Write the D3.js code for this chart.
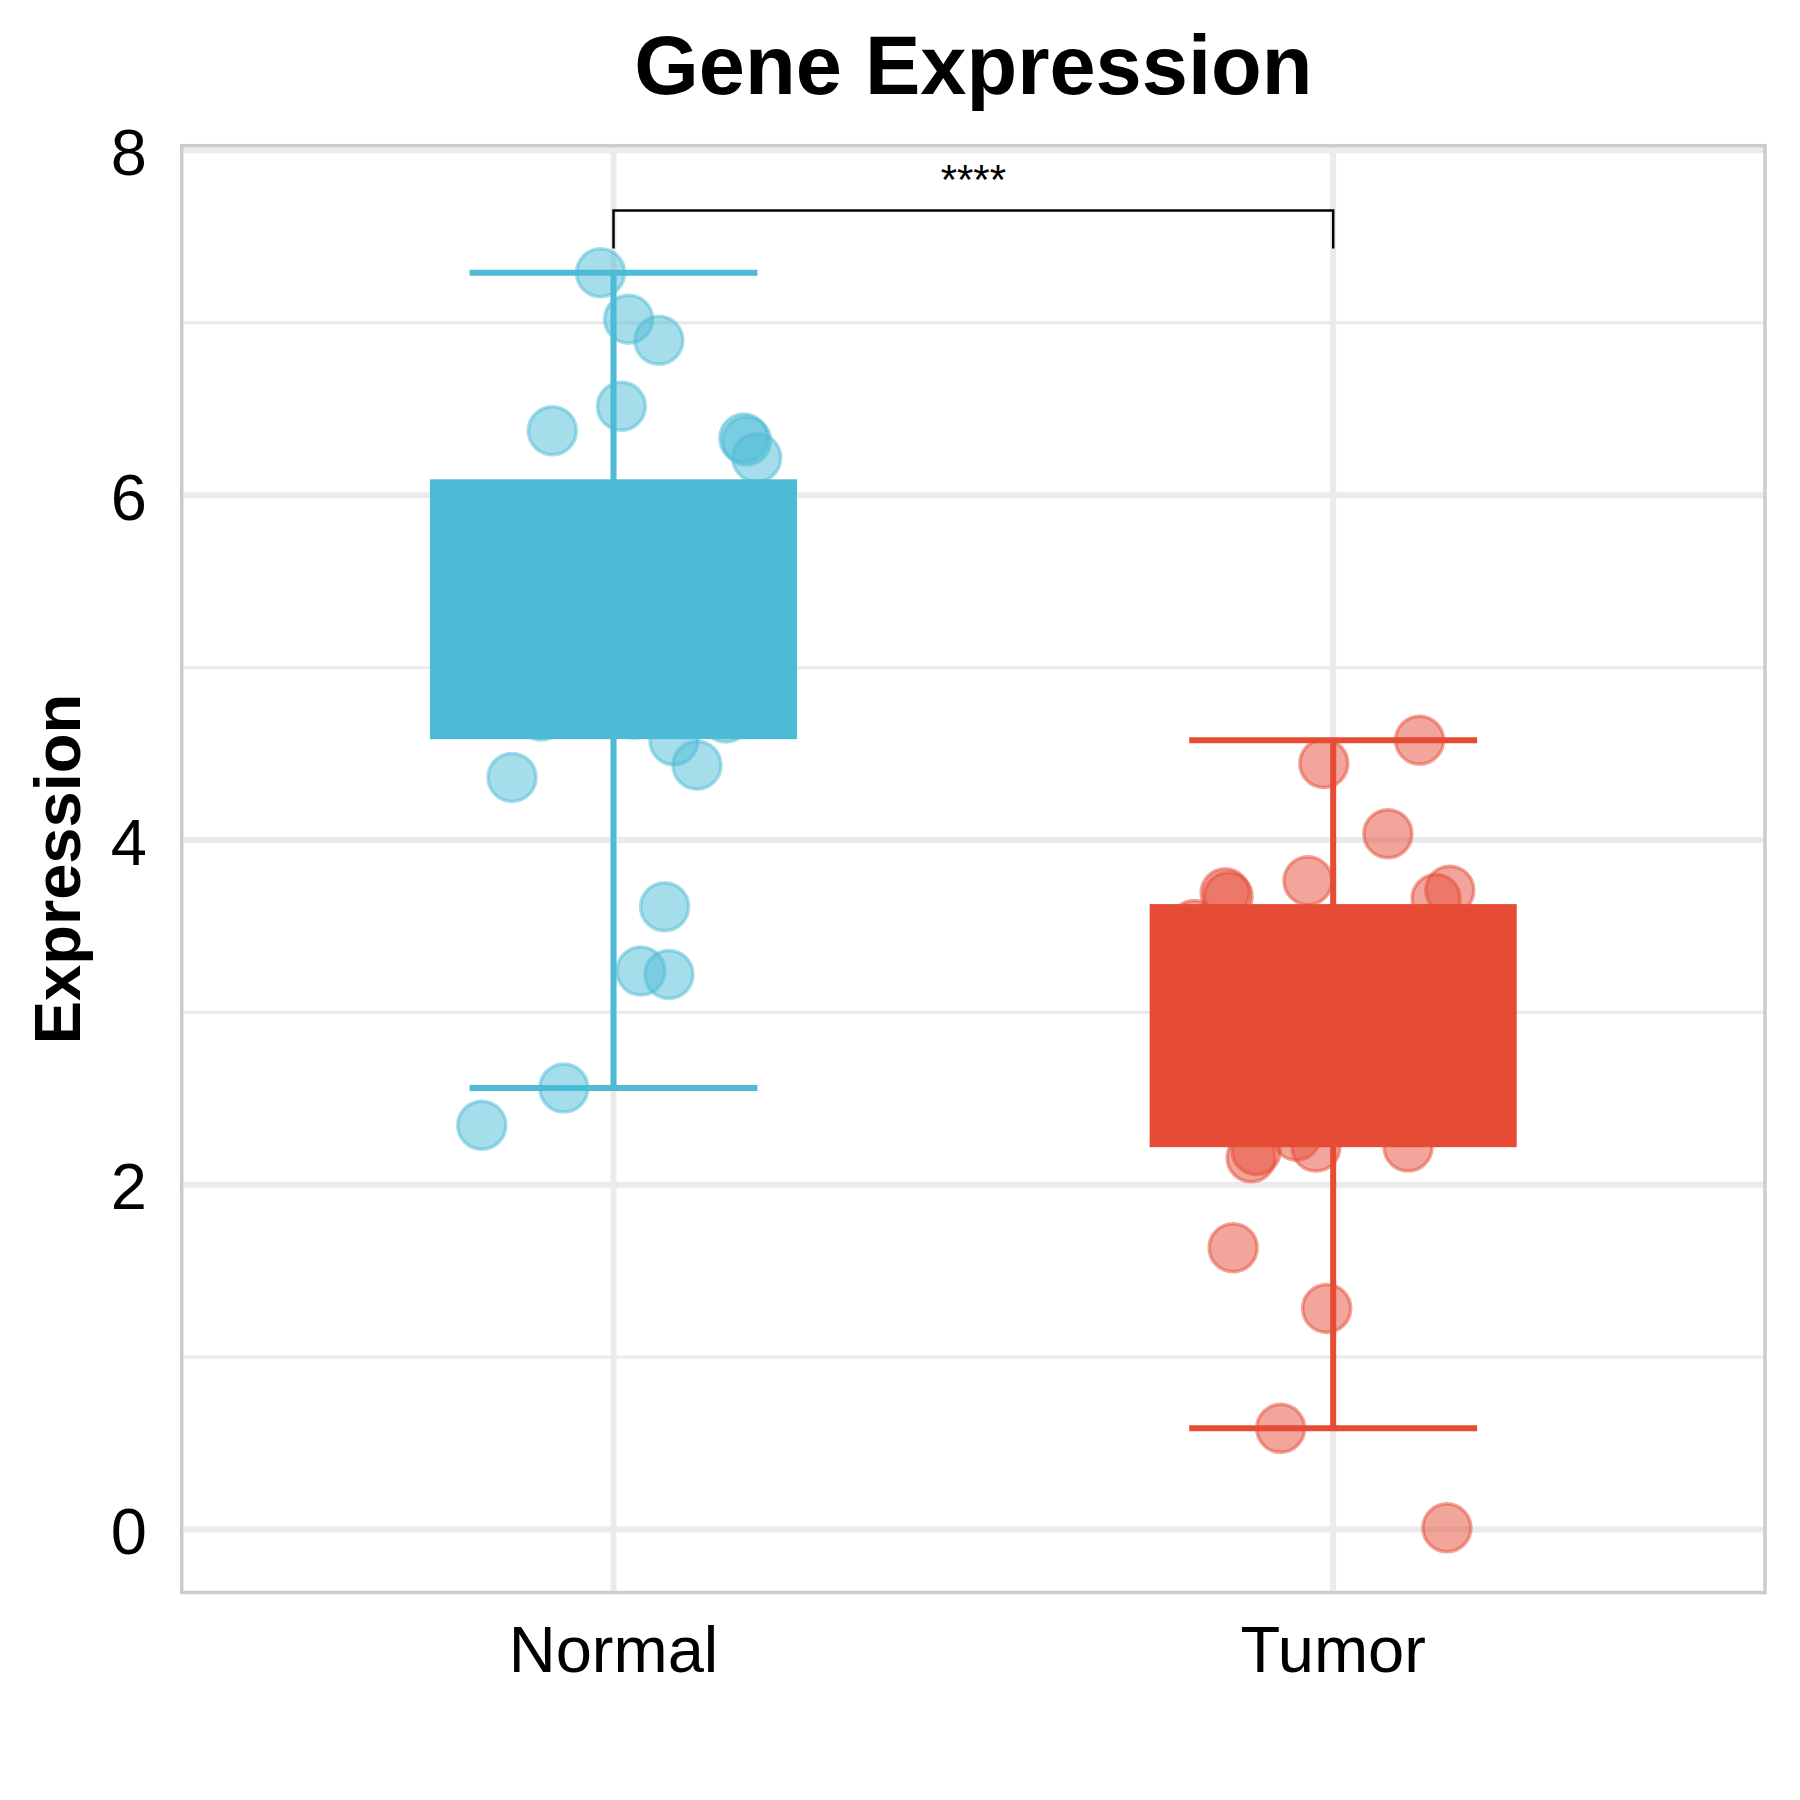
<!DOCTYPE html>
<html>
<head>
<meta charset="utf-8">
<script src="https://cdn.jsdelivr.net/npm/d3@7"></script>
<style>
  html, body { margin: 0; padding: 0; background: #ffffff; }
  svg { display: block; }
</style>
</head>
<body>
<svg id="chart" width="1800" height="1800"></svg>
<script>
// ---------------- data ----------------
const categories = ["Normal", "Tumor"];
const groupColors = ["#4DBBD5", "#E64B35"];

// box statistics (lower hinge, upper hinge, whisker ends)
const boxQ1 = [4.585, 2.218];
const boxQ3 = [6.092, 3.628];
const whiskerLow = [2.561, 0.587];
const whiskerHigh = [7.290, 4.578];

// individual observations (value) and horizontal jitter (fraction of category step)
const normalValues = [7.290, 7.021, 6.899, 6.515, 6.374, 6.331, 6.314, 6.217,
  5.92, 5.84, 5.71, 5.55, 5.43, 5.30, 5.18, 5.05, 4.93, 4.86, 4.80,
  4.719, 4.730, 4.707,
  4.575, 4.434, 4.363, 3.613, 3.240, 3.220, 2.561, 2.345];
const normalJitter = [-0.018, 0.021, 0.063, 0.011, -0.085, 0.181, 0.185, 0.199,
  -0.12, 0.07, -0.04, 0.15, -0.17, 0.02, 0.11, -0.09, 0.05, -0.15, 0.13,
  -0.101, 0.029, 0.156,
  0.084, 0.116, -0.141, 0.071, 0.038, 0.077, -0.069, -0.183];

const tumorValues = [4.579, 4.444, 4.036, 3.763, 3.694, 3.672, 3.709, 3.661, 3.51,
  3.45, 3.38, 3.29, 3.18, 3.07, 2.96, 2.88, 2.77, 2.66, 2.55, 2.47, 2.40,
  2.156, 2.198, 2.282, 2.219, 2.219,
  1.635, 1.283, 0.587, 0.010];
const tumorJitter = [0.120, -0.013, 0.076, -0.035, -0.150, -0.146, 0.162, 0.143, -0.193,
  0.05, -0.12, 0.16, -0.03, 0.09, -0.18, 0.12, -0.07, 0.02, 0.19, -0.14, 0.08,
  -0.114, -0.107, -0.051, -0.024, 0.104,
  -0.139, -0.009, -0.073, 0.158];

const yDomain = [-0.365, 8.027];
const yMajorTicks = [0, 2, 4, 6, 8];
const yMinorTicks = [1, 3, 5, 7];
const yTickLabels = ["0", "2", "4", "6", "8"];

const bracketLevel = 7.651;
const bracketTip = 7.431;
const signifLabel = "****";
const titleText = "Gene Expression";
const yTitleText = "Expression";

// ---------------- layout ----------------
const panel = { left: 181.7, right: 1765, top: 145.7, bottom: 1592.5 };
const FONT = "'Liberation Sans', Arial, Helvetica, sans-serif";

const svg = d3.select("#chart");
svg.append("rect").attr("width", 1800).attr("height", 1800).attr("fill", "#ffffff");

const x = d3.scalePoint().domain(categories).range([panel.left, panel.right]).padding(0.6);
const y = d3.scaleLinear().domain(yDomain).range([panel.bottom, panel.top]);
const step = x.step();

const groups = [
  { name: categories[0], color: groupColors[0], values: normalValues, jitter: normalJitter, q1: boxQ1[0], q3: boxQ3[0], lo: whiskerLow[0], hi: whiskerHigh[0] },
  { name: categories[1], color: groupColors[1], values: tumorValues, jitter: tumorJitter, q1: boxQ1[1], q3: boxQ3[1], lo: whiskerLow[1], hi: whiskerHigh[1] }
];

// clip for panel
svg.append("defs").append("clipPath").attr("id", "panelClip")
  .append("rect")
  .attr("x", panel.left).attr("y", panel.top)
  .attr("width", panel.right - panel.left).attr("height", panel.bottom - panel.top);

const plot = svg.append("g").attr("clip-path", "url(#panelClip)");

// grid
plot.selectAll("line.minor").data(yMinorTicks).join("line")
  .attr("x1", panel.left).attr("x2", panel.right)
  .attr("y1", d => y(d)).attr("y2", d => y(d))
  .attr("stroke", "#EBEBEB").attr("stroke-width", 3.3);
plot.selectAll("line.major").data(yMajorTicks).join("line")
  .attr("x1", panel.left).attr("x2", panel.right)
  .attr("y1", d => y(d)).attr("y2", d => y(d))
  .attr("stroke", "#EBEBEB").attr("stroke-width", 6);
plot.selectAll("line.vgrid").data(categories).join("line")
  .attr("x1", d => x(d)).attr("x2", d => x(d))
  .attr("y1", panel.top).attr("y2", panel.bottom)
  .attr("stroke", "#EBEBEB").attr("stroke-width", 6);

// points
groups.forEach(g => {
  plot.append("g").selectAll("circle").data(g.values).join("circle")
    .attr("cx", (d, i) => x(g.name) + g.jitter[i] * step)
    .attr("cy", d => y(d))
    .attr("r", 24)
    .attr("fill", g.color).attr("fill-opacity", 0.5)
    .attr("stroke", g.color).attr("stroke-opacity", 0.5).attr("stroke-width", 3.5);
});

// boxes & whiskers
const boxHalf = 0.255 * step;
const capHalf = 0.2 * step;
groups.forEach(g => {
  const cx = x(g.name);
  const gg = plot.append("g");
  gg.append("line")
    .attr("x1", cx).attr("x2", cx).attr("y1", y(g.lo)).attr("y2", y(g.hi))
    .attr("stroke", g.color).attr("stroke-width", 6);
  gg.append("rect")
    .attr("x", cx - boxHalf).attr("width", 2 * boxHalf)
    .attr("y", y(g.q3)).attr("height", y(g.q1) - y(g.q3))
    .attr("fill", g.color);
  [g.lo, g.hi].forEach(v => {
    gg.append("line")
      .attr("x1", cx - capHalf).attr("x2", cx + capHalf)
      .attr("y1", y(v)).attr("y2", y(v))
      .attr("stroke", g.color).attr("stroke-width", 6);
  });
});

// significance bracket
const xa = x(categories[0]), xb = x(categories[1]);
plot.append("path")
  .attr("d", `M${xa},${y(bracketTip)}V${y(bracketLevel)}H${xb}V${y(bracketTip)}`)
  .attr("fill", "none").attr("stroke", "#000").attr("stroke-width", 2.5);
svg.append("text")
  .attr("x", (xa + xb) / 2).attr("y", y(bracketLevel) - 17)
  .attr("text-anchor", "middle")
  .attr("font-family", FONT).attr("font-size", 42).attr("fill", "#000")
  .text(signifLabel);

// panel border
svg.append("rect")
  .attr("x", panel.left).attr("y", panel.top)
  .attr("width", panel.right - panel.left).attr("height", panel.bottom - panel.top)
  .attr("fill", "none").attr("stroke", "#CCCCCC").attr("stroke-width", 3.5);

// y tick labels
svg.append("g").selectAll("text").data(yMajorTicks).join("text")
  .attr("x", 147).attr("y", d => y(d)).attr("dy", "0.38em")
  .attr("text-anchor", "end")
  .attr("font-family", FONT).attr("font-size", 65).attr("fill", "#000")
  .text((d, i) => yTickLabels[i]);

// x tick labels
svg.append("g").selectAll("text").data(categories).join("text")
  .attr("x", d => x(d)).attr("y", 1671.7)
  .attr("text-anchor", "middle")
  .attr("font-family", FONT).attr("font-size", 65).attr("fill", "#000")
  .text(d => d);

// y axis title
svg.append("text")
  .attr("transform", `translate(80,${(panel.top + panel.bottom) / 2}) rotate(-90)`)
  .attr("text-anchor", "middle")
  .attr("font-family", FONT).attr("font-size", 65).attr("font-weight", "bold").attr("fill", "#000")
  .text(yTitleText);

// title
svg.append("text")
  .attr("x", (panel.left + panel.right) / 2).attr("y", 94)
  .attr("text-anchor", "middle")
  .attr("font-family", FONT).attr("font-size", 83).attr("font-weight", "bold").attr("fill", "#000")
  .text(titleText);
</script>
</body>
</html>
